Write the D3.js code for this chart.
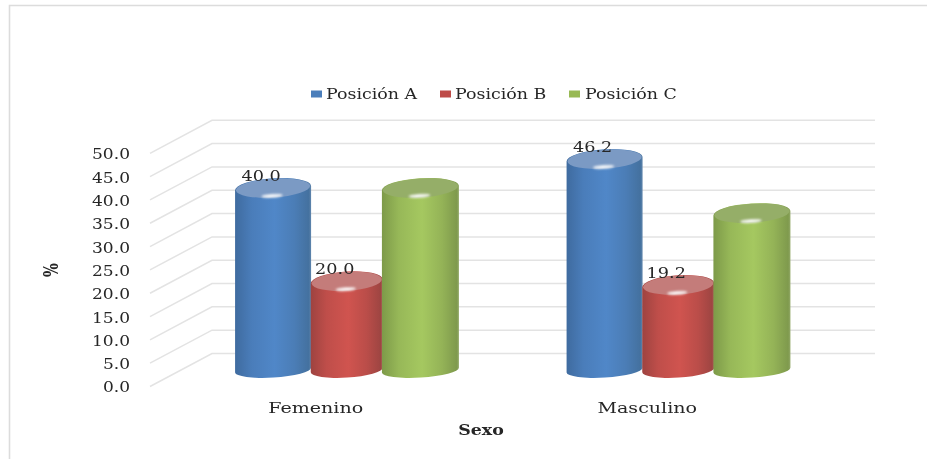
<!DOCTYPE html>
<html>
<head>
<meta charset="utf-8">
<script src="https://cdnjs.cloudflare.com/ajax/libs/d3/7.8.5/d3.min.js"></script>
<style>
html,body{margin:0;padding:0;background:#fff;}
svg{display:block;}
text{font-family:"DejaVu Serif",serif;fill:#262626;}
</style>
</head>
<body>
<svg id="c" width="927" height="459"></svg>
<script>
const categories = ["Femenino", "Masculino"];
const seriesNames = ["Posición A", "Posición B", "Posición C"];
const posicionA = [40.0, 46.2];
const posicionB = [20.0, 19.2];
const posicionC = [40.0, 34.6];
const labelA = ["40.0", "46.2"];
const labelB = ["20.0", "19.2"];
const labelC = [null, null];
const yTicks = [0, 5, 10, 15, 20, 25, 30, 35, 40, 45, 50];
const palette = [
  {dark:"#3f6b9f", mid:"#5087c8", dark2:"#44719f", face:"#7b9ac4", swatch:"#4a7ebb"},
  {dark:"#9e4340", mid:"#d0544f", dark2:"#9e4542", face:"#c47c7a", swatch:"#be4b48"},
  {dark:"#7d9a49", mid:"#a5c860", dark2:"#7f9a4d", face:"#95ae68", swatch:"#98b954"}
];
const values = [posicionA, posicionB, posicionC];
const labels = [labelA, labelB, labelC];
const barWidth = [76, 72, 77];

const W = 927, H = 459;
const svg = d3.select("#c");
const defs = svg.append("defs");
defs.append("filter").attr("id","soft").attr("x",0).attr("y",0).attr("width",1).attr("height",1)
  .attr("color-interpolation-filters","sRGB")
  .append("feGaussianBlur").attr("stdDeviation",0.5);
defs.append("filter").attr("id","glow").attr("x","-50%").attr("y","-200%").attr("width","200%").attr("height","500%")
  .attr("color-interpolation-filters","sRGB")
  .append("feGaussianBlur").attr("stdDeviation",1.1);

palette.forEach((p,i)=>{
  const g = defs.append("linearGradient").attr("id","body"+i).attr("x1",0).attr("x2",1).attr("y1",0).attr("y2",0);
  [[0,p.dark],[0.22,d3.interpolateRgb(p.dark,p.mid)(0.65)],[0.52,p.mid],[0.78,d3.interpolateRgb(p.dark2,p.mid)(0.55)],[0.97,p.dark2],[1,d3.interpolateRgb(p.dark2,"#fff")(0.15)]]
    .forEach(s=>g.append("stop").attr("offset",s[0]).attr("stop-color",s[1]));
});

const root = svg.append("g").attr("filter","url(#soft)");
root.append("rect").attr("width",W).attr("height",H).attr("fill","#fff");

// Frame: top and left only
root.append("path").attr("d",`M9.5,${H}V5.5H${W}`).attr("fill","none").attr("stroke","#dcdcdc").attr("stroke-width",1.6);

// Scales
const x = d3.scaleBand().domain(categories).range([150,813]);
const y = d3.scaleLinear().domain([0,50]).range([386.5,153.3]);
const inner = d3.scaleBand().domain(seriesNames).range([-110.5,110.5]);
const depthX = 62, depthY = 33;
const barShiftX = 31, barShiftY = -11.9, baseY = 370;

// Gridlines
const grid = root.append("g").attr("fill","none").attr("stroke","#e3e3e3").attr("stroke-width",1.5);
grid.selectAll("path").data(yTicks).join("path")
  .attr("d",d=>`M150,${y(d)}L${150+depthX},${y(d)-depthY}H${813+depthX}`);

// Axis labels
const yAxis = d3.axisLeft(y).tickValues(yTicks).tickSize(0).tickPadding(0).tickFormat(d3.format(".1f"));
const axG = root.append("g").attr("transform","translate(130,0.5)").call(yAxis);
axG.select(".domain").remove();
axG.selectAll("text").attr("class","st").attr("data-s",1.1).attr("font-size",15.5).style("font-family","'DejaVu Serif',serif").attr("fill","#262626");

// Bars
const tiltDeg = -3.6, tilt = Math.tan(tiltDeg*Math.PI/180);
const barsG = root.append("g");
const labelG = root.append("g");
seriesNames.forEach((s,si)=>{
  categories.forEach((c,ci)=>{
    const v = values[si][ci];
    const cx = x(c)+x.bandwidth()/2+barShiftX+inner(s)+inner.bandwidth()/2;
    const w = barWidth[si], rx = w/2;
    const cy = y(v)+barShiftY;
    const g = barsG.append("g");
    const xl = cx-rx, xr = cx+rx;
    const dy = -tilt*rx;
    const d = `M${xl},${baseY+dy}`
      + `L${xl},${cy+dy}`
      + `A${rx},9.8 ${tiltDeg} 0 1 ${xr},${cy-dy}`
      + `L${xr},${baseY-dy}`
      + `A${rx},7.6 ${tiltDeg} 0 1 ${xl},${baseY+dy}Z`;
    g.append("path").attr("d",d).attr("fill",`url(#body${si})`);
    // top face
    g.append("ellipse").attr("cx",0).attr("cy",0).attr("rx",rx-0.8).attr("ry",9.5)
      .attr("transform",`translate(${cx},${cy}) rotate(${tiltDeg})`)
      .attr("fill",palette[si].face);
    // highlight
    g.append("ellipse").attr("cx",0).attr("cy",0).attr("rx",w*0.14).attr("ry",1.7)
      .attr("transform",`translate(${cx-1},${cy+7.8}) rotate(${tiltDeg})`)
      .attr("fill","#fff").attr("fill-opacity",0.95).attr("filter","url(#glow)");
    // value label
    if (labels[si][ci]) {
      labelG.append("text").attr("class","st").attr("data-s",1.14).attr("x",cx-12).attr("y",cy-7)
        .attr("text-anchor","middle").attr("font-size",15.5).text(labels[si][ci]);
    }
  });
});

// Category labels
root.append("g").selectAll("text").data(categories).join("text")
  .attr("class","st").attr("data-s",1.27).attr("x",d=>x(d)+x.bandwidth()/2).attr("y",412.5)
  .attr("text-anchor","middle").attr("font-size",15).text(d=>d);

// Axis titles
root.append("text").attr("class","st").attr("data-s",1.2).attr("x",481).attr("y",435).attr("text-anchor","middle")
  .attr("font-size",14.5).attr("font-weight","bold").text("Sexo");
root.append("text").attr("transform","translate(58,270) rotate(-90) scale(1,1.35)").attr("text-anchor","middle")
  .attr("font-size",14.5).attr("font-weight","bold").text("%");

// Legend
const legendX = [[311,326],[440,455],[569,585]];
const leg = root.append("g").selectAll("g").data(seriesNames).join("g");
leg.append("rect").attr("x",(d,i)=>legendX[i][0]).attr("y",90.5).attr("width",11).attr("height",7)
  .attr("fill",(d,i)=>palette[i].swatch);
leg.append("text").attr("class","st").attr("data-s",1.2).attr("x",(d,i)=>legendX[i][1]).attr("y",99)
  .attr("font-size",14.5).text(d=>d);

// Stretched look of the original glyphs
root.selectAll("text.st").each(function(){
  const L = this.getComputedTextLength();
  this.setAttribute("textLength", (L*(+this.getAttribute("data-s"))).toFixed(1));
  this.setAttribute("lengthAdjust","spacingAndGlyphs");
});
</script>
</body>
</html>
